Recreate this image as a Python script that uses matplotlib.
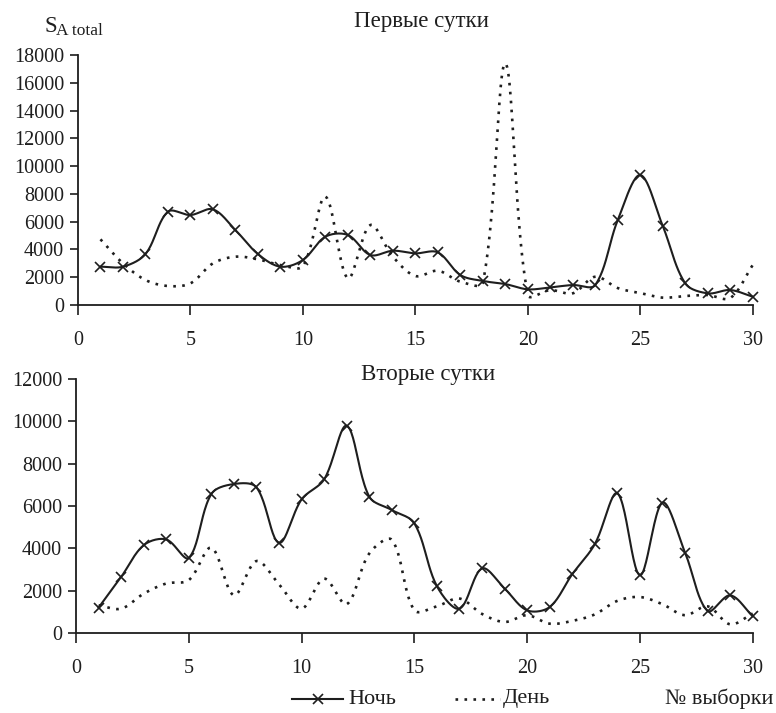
import numpy as np
import matplotlib
matplotlib.use("Agg")
import matplotlib.pyplot as plt
from matplotlib.lines import Line2D

plt.rcParams['font.family'] = ['Liberation Serif', 'DejaVu Serif']

samples = list(range(1, 31))

night_day1 = [2760, 2760, 3670, 6720, 6480, 6890, 5400, 3670, 2760, 3240,
              4920, 5040, 3600, 3910, 3720, 3790, 2160, 1730, 1510, 1130,
              1270, 1440, 1440, 6120, 9360, 5690, 1560, 840, 1080, 600]
day_day1 = [4730, 3000, 1800, 1370, 1560, 3000, 3480, 3290, 2880, 2800,
            7800, 1920, 5760, 3480, 2090, 2470, 1680, 1600, 17400, 720,
            1080, 840, 2040, 1220, 860, 530, 650, 720, 500, 2880]

night_day2 = [1200, 2650, 4150, 4420, 3550, 6570, 7040, 6880, 4260, 6315,
              7260, 9790, 6440, 5810, 5180, 2210, 1150, 3050, 2100, 1070,
              1230, 2780, 4200, 6600, 2730, 6160, 3800, 1040, 1780, 790]
day_day2 = [1310, 1150, 1860, 2340, 2500, 4030, 1780, 3400, 2300, 1150,
            2570, 1360, 3760, 4400, 1070, 1260, 1630, 900, 520, 840,
            440, 570, 880, 1520, 1700, 1360, 840, 1260, 410, 920]

titles = ["Первые сутки", "Вторые сутки"]
xticks = [0, 5, 10, 15, 20, 25, 30]
ylims = [18000, 12000]
legend_labels = ["Ночь", "День"]
xlabel = "№ выборки"

INK = "#1e1e1e"


def smooth(ax, x, y, n=24):
    """Excel-like smoothed line: cubic Bezier through the points with
    control handles scaled by segment lengths in screen space."""
    xy = np.column_stack([np.asarray(x, float), np.asarray(y, float)])
    P = ax.transData.transform(xy)
    m = len(P)
    out = []
    for i in range(m - 1):
        p0 = P[i - 1] if i > 0 else P[i]
        p1 = P[i]
        p2 = P[i + 1]
        p3 = P[i + 2] if i + 2 < m else P[i + 1]
        d01 = np.hypot(*(p1 - p0))
        d12 = np.hypot(*(p2 - p1))
        d23 = np.hypot(*(p3 - p2))
        f1 = d12 / (d01 + d12) if (d01 + d12) > 0 else 0
        f2 = d12 / (d12 + d23) if (d12 + d23) > 0 else 0
        c1 = p1 + (p2 - p0) * f1 / 3.0
        c2 = p2 - (p3 - p1) * f2 / 3.0
        t = np.linspace(0, 1, n, endpoint=(i == m - 2))[:, None]
        seg = ((1 - t) ** 3) * p1 + 3 * ((1 - t) ** 2) * t * c1 + 3 * (1 - t) * t ** 2 * c2 + t ** 3 * p2
        out.append(seg)
    S = np.vstack(out)
    D = ax.transData.inverted().transform(S)
    return D[:, 0], D[:, 1]


fig = plt.figure(figsize=(7.76, 7.13), dpi=100)
ax1 = fig.add_axes([0.1005, 0.5722, 0.8695, 0.3506])
ax2 = fig.add_axes([0.098, 0.1122, 0.872, 0.3562])

dotted = (0, (1.0, 2.4))

for ax, night, day, ylim in [(ax1, night_day1, day_day1, ylims[0]),
                              (ax2, night_day2, day_day2, ylims[1])]:
    ax.set_xlim(0, 30)
    ax.set_ylim(0, ylim)
    sx, sy = smooth(ax, samples, day)
    ax.plot(sx, sy, color=INK, lw=1.9, linestyle=dotted, clip_on=False)
    sx, sy = smooth(ax, samples, night)
    ax.plot(sx, sy, color=INK, lw=1.5, clip_on=False)
    ax.plot(samples, night, linestyle='none', marker='x', ms=6.5, mew=1.2,
            color=INK, clip_on=False)
    ax.set_xticks(xticks)
    ax.set_yticks(np.arange(0, ylim + 1, 2000))
    for s in ['top', 'right']:
        ax.spines[s].set_visible(False)
    for s in ['left', 'bottom']:
        ax.spines[s].set_color(INK)
        ax.spines[s].set_linewidth(1.3)
    ax.tick_params(axis='x', direction='out', length=7, width=1.2, pad=12,
                   labelsize=14.5, colors=INK)
    ax.tick_params(axis='y', direction='out', length=6, width=1.2, pad=4,
                   labelsize=14.5, colors=INK)

fig.text(421 / 776, 1 - 21 / 713, titles[0], ha='center', va='center',
         fontsize=16.5, color=INK)
fig.text(428 / 776, 1 - 374 / 713, titles[1], ha='center', va='center',
         fontsize=16.5, color=INK)

fig.text(44 / 776, 1 - 27 / 713, "S", ha='left', va='center', fontsize=16.5, color=INK)
fig.text(56 / 776, 1 - 31 / 713, "A total", ha='left', va='center', fontsize=12.5, color=INK)

# legend
ly = 1 - 699 / 713
fig.add_artist(Line2D([292 / 776, 343 / 776], [ly, ly], color=INK, lw=1.5,
                      transform=fig.transFigure))
fig.add_artist(Line2D([318 / 776], [ly], color=INK, marker='x', ms=6.5, mew=1.2,
                      linestyle='none', transform=fig.transFigure))
fig.text(348 / 776, ly, legend_labels[0], ha='left', va='center', fontsize=16, color=INK)
fig.add_artist(Line2D([455 / 776, 500 / 776], [ly, ly], color=INK, lw=1.9,
                      linestyle=dotted, transform=fig.transFigure))
fig.text(503 / 776, ly, legend_labels[1], ha='left', va='center', fontsize=16, color=INK)
fig.text(773 / 776, ly, xlabel, ha='right', va='center', fontsize=16, color=INK)

fig.savefig("out.png", dpi=100, facecolor='white')
